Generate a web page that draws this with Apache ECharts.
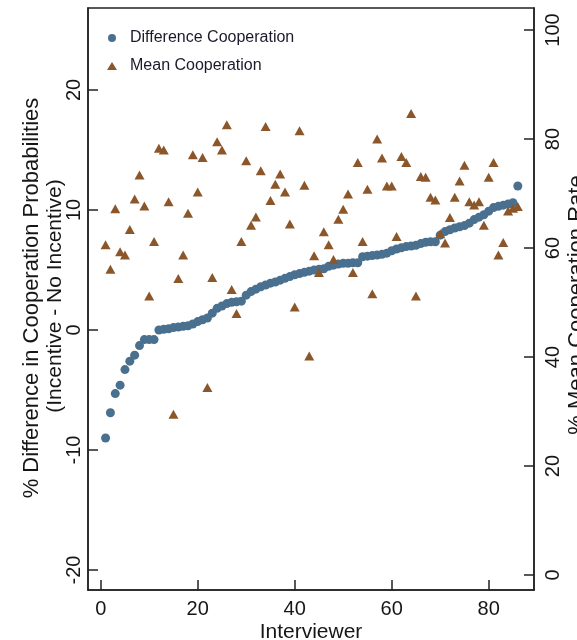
<!DOCTYPE html>
<html><head><meta charset="utf-8">
<script src="https://cdn.jsdelivr.net/npm/echarts@6/dist/echarts.min.js"></script>
<style>html,body{margin:0;padding:0;background:#fff}#c{width:577px;height:640px}</style>
</head><body><div id="c"></div>
<script>
// Interviewer index (x)
const interviewers = [1,2,3,4,5,6,7,8,9,10,11,12,13,14,15,16,17,18,19,20,
  21,22,23,24,25,26,27,28,29,30,31,32,33,34,35,36,37,38,39,40,
  41,42,43,44,45,46,47,48,49,50,51,52,53,54,55,56,57,58,59,60,
  61,62,63,64,65,66,67,68,69,70,71,72,73,74,75,76,77,78,79,80,
  81,82,83,84,85,86];
// % Difference in cooperation probabilities (left axis)
const diffCooperation = [-9.0,-6.9,-5.3,-4.6,-3.3,-2.6,-2.1,-1.3,-0.8,-0.8,
  -0.8,0.0,0.05,0.1,0.2,0.25,0.3,0.35,0.5,0.7,
  0.85,1.0,1.4,1.8,2.0,2.2,2.3,2.35,2.4,2.9,
  3.2,3.4,3.6,3.75,3.9,4.0,4.15,4.3,4.45,4.6,
  4.7,4.8,4.9,5.0,5.05,5.1,5.3,5.4,5.5,5.55,
  5.55,5.6,5.6,6.1,6.15,6.2,6.25,6.3,6.4,6.6,
  6.75,6.85,6.95,7.0,7.05,7.2,7.3,7.35,7.35,7.9,
  8.2,8.35,8.5,8.6,8.7,8.9,9.2,9.4,9.6,9.9,
  10.2,10.3,10.4,10.5,10.6,12.0];
// % Mean cooperation rate (right axis)
const meanCooperation = [60.6,56.1,67.2,59.3,58.7,63.4,69.0,73.4,67.7,51.2,
  61.2,78.3,78.0,68.5,29.5,54.4,58.7,66.4,77.1,70.3,
  76.6,34.4,54.6,79.5,78.0,82.6,52.4,48.0,61.2,76.0,
  64.2,65.7,74.2,82.3,68.7,71.7,73.6,70.3,64.4,49.2,
  81.5,71.5,40.2,58.6,55.5,63.0,60.6,57.9,65.3,67.1,
  69.9,55.5,75.7,61.2,70.8,51.6,80.0,76.5,71.4,71.4,
  62.1,76.8,75.7,84.7,51.2,73.1,73.0,69.3,68.8,62.6,
  60.9,65.6,69.3,72.3,75.2,68.5,67.9,68.5,64.2,73.0,
  75.7,58.7,61.0,66.8,67.3,67.6];
const xTicks = [0,20,40,60,80];
const leftTicks = [-20,-10,0,10,20];
const rightTicks = [0,20,40,60,80,100];

const seriesNames = ['Difference Cooperation','Mean Cooperation'];
const axisColor = '#222';
const textColor = '#161616';
const font = '"Liberation Sans", Arial, sans-serif';

const chart = echarts.init(document.getElementById('c'), null, {renderer:'canvas'});
chart.setOption({
  animation:false,
  backgroundColor:'#fff',
  textStyle:{fontFamily:font},
  grid:{left:88,right:43,top:8,bottom:50,show:true,borderColor:axisColor,borderWidth:1.5,containLabel:false},
  legend:{
    orient:'vertical', left:102, top:25, itemWidth:10, itemHeight:8, itemGap:12,
    textStyle:{fontSize:16,color:'#1a1a2a',lineHeight:16,fontFamily:font,padding:[0,0,0,8]},
    data:[{name:seriesNames[0],icon:'circle'},{name:seriesNames[1],icon:'triangle'}]
  },
  xAxis:{
    type:'value', min:-2.62, max:89.34,
    axisLine:{show:true,onZero:false,lineStyle:{color:axisColor,width:1.5}},
    axisTick:{show:true,inside:true,length:10,customValues:xTicks,lineStyle:{color:axisColor,width:1.5}},
    axisLabel:{customValues:xTicks,fontSize:20,color:textColor,margin:9,fontFamily:font},
    splitLine:{show:false}
  },
  yAxis:[{
    type:'value', position:'left', min:-21.67, max:26.83,
    axisLine:{show:true,onZero:false,lineStyle:{color:axisColor,width:1.5}},
    axisTick:{show:true,inside:true,length:10,customValues:leftTicks,lineStyle:{color:axisColor,width:1.5}},
    axisLabel:{customValues:leftTicks,rotate:90,fontSize:20,color:textColor,margin:4,fontFamily:font},
    splitLine:{show:false}
  },{
    type:'value', position:'right', min:-2.75, max:104.04,
    axisLine:{show:true,onZero:false,lineStyle:{color:axisColor,width:1.5}},
    axisTick:{show:true,inside:true,length:10,customValues:rightTicks,lineStyle:{color:axisColor,width:1.5}},
    axisLabel:{customValues:rightTicks,rotate:90,fontSize:20,color:textColor,margin:9,fontFamily:font},
    splitLine:{show:false}
  }],
  graphic:[
    {type:'text',x:32,y:298,rotation:Math.PI/2,style:{text:'% Difference in Cooperation Probabilities',font:'22px '+font,fill:textColor,align:'center',verticalAlign:'middle'}},
    {type:'text',x:55,y:296,rotation:Math.PI/2,style:{text:'(Incentive - No Incentive)',font:'21px '+font,fill:textColor,align:'center',verticalAlign:'middle'}},
    {type:'text',x:577,y:305,rotation:Math.PI/2,style:{text:'% Mean Cooperation Rate',font:'22px '+font,fill:textColor,align:'center',verticalAlign:'middle'}},
    {type:'text',x:311,y:632,style:{text:'Interviewer',font:'21px '+font,fill:textColor,align:'center',verticalAlign:'middle'}}
  ],
  series:[{
    name:seriesNames[0], type:'scatter', yAxisIndex:0, symbol:'circle', symbolSize:9,
    itemStyle:{color:'#4a7090',opacity:1},
    data:interviewers.map((x,i)=>[x,diffCooperation[i]])
  },{
    name:seriesNames[1], type:'scatter', yAxisIndex:1, symbol:'triangle', symbolSize:[10,9],
    itemStyle:{color:'#8b572a',opacity:1},
    data:interviewers.map((x,i)=>[x,meanCooperation[i]])
  }]
});
</script></body></html>
